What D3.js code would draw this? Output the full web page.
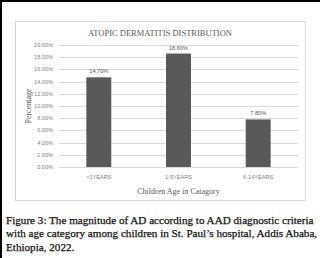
<!DOCTYPE html>
<html>
<head>
<meta charset="utf-8">
<script src="https://cdn.jsdelivr.net/npm/d3@7/dist/d3.min.js"></script>
<style>
  html, body { margin: 0; padding: 0; background: #fff; }
  svg { display: block; }
</style>
</head>
<body>
<div id="chart"></div>
<script>
// Data
const categories = ["<1YEARS", "1-5YEARS", "6-14YEARS"]
const values = [14.7, 18.6, 7.8]
const yTicks = [0, 2, 4, 6, 8, 10, 12, 14, 16, 18, 20]
const captionLines = [
  "Figure 3: The magnitude of AD according to AAD diagnostic criteria",
  "with age category among children in St. Paul\u2019s hospital, Addis Ababa,",
  "Ethiopia, 2022."
]

const W = 320, H = 258
const svg = d3.select("#chart").append("svg")
  .attr("width", W).attr("height", H)

// page frame (black rule on top and left)
svg.append("rect").attr("x", 0).attr("y", 0).attr("width", W).attr("height", 2).attr("fill", "#000")
svg.append("rect").attr("x", 0).attr("y", 0).attr("width", 2).attr("height", H).attr("fill", "#000")

// chart panel
svg.append("rect")
  .attr("x", 15.5).attr("y", 21.5).attr("width", 290).attr("height", 179)
  .attr("fill", "#fff").attr("stroke", "#d9d9d9").attr("stroke-width", 1)

const plot = { left: 59, right: 298, top: 45, bottom: 167 }

const x = d3.scaleBand().domain(categories)
  .range([plot.left, plot.right]).paddingInner(0.687).paddingOuter(0.343)
const y = d3.scaleLinear().domain([0, 20]).range([plot.bottom, plot.top])

const tickFont = "'Liberation Sans', Arial, sans-serif"
const serif = "'Liberation Serif', 'Times New Roman', serif"

// gridlines
svg.append("g").selectAll("line").data(yTicks).join("line")
  .attr("x1", plot.left).attr("x2", plot.right)
  .attr("y1", d => Math.round(y(d)) + 0.5).attr("y2", d => Math.round(y(d)) + 0.5)
  .attr("stroke", "#d9d9d9").attr("stroke-width", 1)

// y tick labels
svg.append("g").selectAll("text").data(yTicks).join("text")
  .attr("x", 53).attr("y", d => y(d) + 2)
  .attr("text-anchor", "end")
  .attr("font-family", tickFont).attr("font-size", 5.6)
  .attr("fill", "#7f7f7f")
  .text(d => d.toFixed(2) + "%")

// bars
svg.append("g").selectAll("rect").data(values).join("rect")
  .attr("x", (d, i) => x(categories[i]))
  .attr("width", x.bandwidth())
  .attr("y", d => y(d))
  .attr("height", d => y(0) - y(d))
  .attr("fill", "#595959")

// value labels
svg.append("g").selectAll("text").data(values).join("text")
  .attr("x", (d, i) => x(categories[i]) + x.bandwidth() / 2)
  .attr("y", d => y(d) - 4)
  .attr("text-anchor", "middle")
  .attr("font-family", tickFont).attr("font-size", 5.6)
  .attr("fill", "#595959")
  .text(d => d.toFixed(2) + "%")

// x tick labels
svg.append("g").selectAll("text").data(categories).join("text")
  .attr("x", d => x(d) + x.bandwidth() / 2)
  .attr("y", 178.5)
  .attr("text-anchor", "middle")
  .attr("font-family", tickFont).attr("font-size", 5.6)
  .attr("fill", "#7f7f7f")
  .text(d => d)

// title
svg.append("text")
  .attr("x", 160).attr("y", 36)
  .attr("text-anchor", "middle")
  .attr("font-family", serif).attr("font-size", 8.5)
  .attr("fill", "#595959")
  .text("ATOPIC DERMATITIS DISTRIBUTION")

// axis titles
svg.append("text")
  .attr("x", 178.5).attr("y", 193.5)
  .attr("text-anchor", "middle")
  .attr("font-family", serif).attr("font-size", 8)
  .attr("fill", "#595959")
  .text("Children Age in Catagory")

svg.append("text")
  .attr("transform", "translate(31,106) rotate(-90)")
  .attr("text-anchor", "middle")
  .attr("font-family", serif).attr("font-size", 8)
  .attr("fill", "#595959")
  .text("Percentage")

// caption: size the font so the first line spans the same width as in the figure
const caption = svg.append("g")
  .attr("font-family", serif)
  .attr("fill", "#111").attr("stroke", "#111").attr("stroke-width", 0.25)
const probe = caption.append("text").attr("font-size", 12).text(captionLines[0])
const capSize = 12 * 308 / probe.node().getComputedTextLength()
probe.remove()

caption.selectAll("text").data(captionLines).join("text")
  .attr("x", 6).attr("y", (d, i) => 223.5 + i * 13.5)
  .attr("font-size", capSize)
  .text(d => d)
</script>
</body>
</html>
